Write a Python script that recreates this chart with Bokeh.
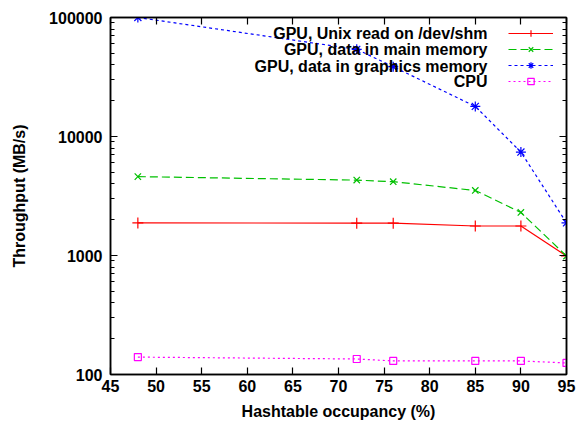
from bokeh.plotting import figure
from bokeh.models import (FixedTicker, LinearAxis, LogAxis, Label, Legend,
                          LegendItem, PrintfTickFormatter, Range1d)
from bokeh.embed import file_html
from bokeh.resources import INLINE

# ---- data ----
occupancy = [48, 72, 76, 85, 90, 95]
gpu_shm = [1880, 1870, 1870, 1770, 1770, 990]
gpu_main = [4600, 4300, 4170, 3520, 2300, 990]
gpu_graphics = [100000, 54000, 38600, 17900, 7400, 1880]
cpu = [140, 135, 130, 130, 130, 125]

series_names = ["GPU, Unix read on /dev/shm",
                "GPU, data in main memory",
                "GPU, data in graphics memory",
                "CPU"]
x_ticks = [45, 50, 55, 60, 65, 70, 75, 80, 85, 90, 95]
y_ticks = [100, 1000, 10000, 100000]
y_minor = [m * d for d in [100, 1000, 10000] for m in range(2, 10)]

FONT = "Liberation Sans"

p = figure(width=579, height=423, y_axis_type="log",
           x_range=Range1d(45, 95), y_range=Range1d(100, 100000),
           output_backend="svg", toolbar_location=None,
           min_border_left=110, min_border_right=13,
           min_border_top=17, min_border_bottom=49)
p.grid.visible = False
p.outline_line_color = "black"
p.outline_line_width = 1.5
p.background_fill_color = "white"
p.border_fill_color = "white"


def style(ax, labels=True):
    ax.axis_line_color = "black"
    ax.axis_line_width = 1.5
    ax.major_tick_in = 7
    ax.major_tick_out = 0
    ax.minor_tick_in = 4
    ax.minor_tick_out = 0
    ax.major_tick_line_color = "black"
    ax.minor_tick_line_color = "black"
    ax.major_tick_line_width = 1.2
    ax.minor_tick_line_width = 1.2
    if labels:
        ax.major_label_text_font = FONT
        ax.major_label_text_font_style = "bold"
        ax.major_label_text_font_size = "16px"
        ax.major_label_text_color = "black"
        ax.axis_label_text_color = "black"
        ax.axis_label_text_font = FONT
        ax.axis_label_text_font_style = "bold"
        ax.axis_label_text_font_size = "16px"
    else:
        ax.major_label_text_font_size = "0px"
        ax.major_label_text_color = None
        ax.major_label_standoff = 0


xt = FixedTicker(ticks=x_ticks, minor_ticks=[])
yt = FixedTicker(ticks=y_ticks, minor_ticks=y_minor)

xa = p.xaxis[0]
xa.ticker = xt
style(xa)
xa.major_label_standoff = 5
xa.axis_label = "Hashtable occupancy (%)"
xa.axis_label_standoff = 8

ya = p.yaxis[0]
ya.ticker = yt
ya.formatter = PrintfTickFormatter(format="%d")
style(ya)
ya.major_label_standoff = 8
ya.axis_label = "Throughput (MB/s)"
ya.axis_label_standoff = 18

top = LinearAxis(ticker=FixedTicker(ticks=x_ticks, minor_ticks=[]))
style(top, labels=False)
p.add_layout(top, "above")
right = LogAxis(ticker=FixedTicker(ticks=y_ticks, minor_ticks=y_minor))
style(right, labels=False)
p.add_layout(right, "right")

# ---- series ----
specs = [
    (gpu_shm, "#ff0000", "solid", "cross", 11),
    (gpu_main, "#00c000", "8 4", "x", 9),
    (gpu_graphics, "#0000ff", "3 3", "asterisk", 10),
    (cpu, "#ff00ff", "2 3", "square", 7),
]
items = []
for vals, col, dash, marker, size in specs:
    ln = p.line(occupancy, vals, line_color=col, line_width=1.2, line_dash=dash)
    mk = p.scatter(occupancy, vals, marker=marker, size=size, line_color=col,
                   fill_color=None, line_width=1.2)
    items.append(LegendItem(label=" ", renderers=[ln, mk]))

legend = Legend(items=items, location=(398, 285), orientation="vertical",
                glyph_width=45, glyph_height=16, label_height=16, label_width=0,
                label_standoff=0, padding=0, margin=0, spacing=0,
                border_line_color=None, background_fill_alpha=0,
                label_text_font_size="1px")
p.add_layout(legend)

row_y = [340.7, 325, 308.3, 292.7]
for name, yy in zip(series_names, row_y):
    p.add_layout(Label(x=377, y=yy, x_units="screen", y_units="screen",
                       text=name, text_align="right", text_baseline="middle",
                       text_font=FONT, text_font_style="bold",
                       text_font_size="16px", text_color="black"))

open("out.html", "w").write(file_html(p, INLINE))
